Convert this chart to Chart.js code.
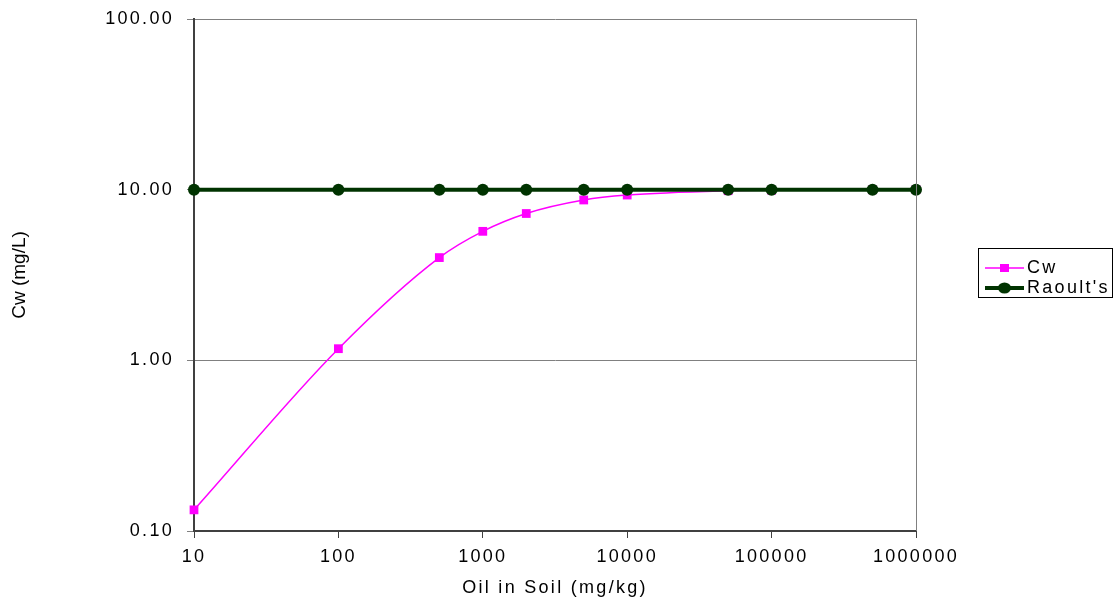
<!DOCTYPE html>
<html>
<head>
<meta charset="utf-8">
<script src="https://cdn.jsdelivr.net/npm/chart.js@4.4.1/dist/chart.umd.min.js"></script>
<style>
  html, body { margin: 0; padding: 0; background: #fff; }
  #wrap { width: 1114px; height: 599px; position: relative; }
</style>
</head>
<body>
<div id="wrap"><canvas id="canvasCw"></canvas></div>
<script>
// oil in soil (mg/kg)
var oil = [10, 100, 500, 1000, 2000, 5000, 10000, 50000, 100000, 500000, 1000000];
// dissolved concentration (mg/L)
var cw = [0.133, 1.17, 4.0, 5.7, 7.25, 8.7, 9.3, 9.86, 9.93, 9.99, 10.0];
var raoults = [10, 10, 10, 10, 10, 10, 10, 10, 10, 10, 10];
var xTicks = [10, 100, 1000, 10000, 100000, 1000000];
var yTicks = [0.1, 1, 10, 100];

var FONT = "'Liberation Sans', Arial, sans-serif";

function toPoints(xs, ys) {
  var pts = [];
  for (var i in xs) {
    pts.push({x: xs[i], y: ys[i]});
  }
  return pts;
}

// Excel-ish spaced text
var spacingPlugin = {
  id: 'spacing',
  beforeLayout: function(chart) { chart.ctx.letterSpacing = '2.3px'; },
  beforeDraw: function(chart) { chart.ctx.letterSpacing = '2.3px'; }
};

// right border of plot, y title, boxed legend
var framePlugin = {
  id: 'frame',
  afterDraw: function(chart) {
    var ctx = chart.ctx;
    var a = chart.chartArea;
    ctx.save();
    ctx.strokeStyle = '#808080';
    ctx.lineWidth = 1;
    ctx.beginPath();
    ctx.moveTo(Math.round(a.right) + 0.5, a.top);
    ctx.lineTo(Math.round(a.right) + 0.5, a.bottom);
    ctx.stroke();

    // y axis title
    ctx.letterSpacing = '0px';
    ctx.fillStyle = '#000';
    ctx.font = '19px ' + FONT;
    ctx.textAlign = 'center';
    ctx.textBaseline = 'middle';
    ctx.translate(20, (a.top + a.bottom) / 2);
    ctx.rotate(-Math.PI / 2);
    ctx.fillText('Cw (mg/L)', 0, 0);
    ctx.restore();

    // legend
    ctx.save();
    ctx.strokeStyle = '#000';
    ctx.lineWidth = 1;
    ctx.strokeRect(978.5, 248.5, 134, 49);
    ctx.letterSpacing = '2.3px';
    ctx.font = '18px ' + FONT;
    ctx.textBaseline = 'middle';
    ctx.textAlign = 'left';
    var ds = chart.data.datasets;
    for (var k = 0; k < ds.length; k++) {
      var d = ds[k];
      var y = 268 + k * 20;
      ctx.strokeStyle = d.borderColor;
      ctx.lineWidth = d.borderWidth;
      ctx.beginPath();
      ctx.moveTo(985, y);
      ctx.lineTo(1024, y);
      ctx.stroke();
      ctx.fillStyle = d.pointBackgroundColor;
      ctx.beginPath();
      if (d.pointStyle === 'rect') {
        ctx.rect(1004.5 - 4.5, y - 4, 9, 8);
      } else {
        ctx.ellipse(1004.5, y, 6.5, 5.5, 0, 0, Math.PI * 2);
      }
      ctx.fill();
      ctx.fillStyle = '#000';
      ctx.fillText(d.label, 1027, y);
    }
    ctx.restore();
  }
};

var ctx = document.getElementById('canvasCw');

var chart = new Chart(ctx, {
  type: 'scatter',
  data: {
    datasets: [
      {
        label: 'Cw',
        data: toPoints(oil, cw),
        showLine: true,
        clip: false,
        borderColor: '#FF00FF',
        backgroundColor: '#FF00FF',
        pointBackgroundColor: '#FF00FF',
        pointBorderWidth: 0,
        borderWidth: 1.5,
        pointStyle: 'rect',
        pointRadius: 6.2,
        cubicInterpolationMode: 'monotone',
        order: 2
      },
      {
        label: "Raoult's",
        data: toPoints(oil, raoults),
        showLine: true,
        clip: false,
        borderColor: '#003300',
        backgroundColor: '#003300',
        pointBackgroundColor: '#003300',
        pointBorderWidth: 0,
        borderWidth: 4,
        pointStyle: 'circle',
        pointRadius: 6,
        order: 1
      }
    ]
  },
  options: {
    responsive: true,
    maintainAspectRatio: false,
    animation: false,
    layout: { padding: { left: 0, top: 19, right: 198, bottom: 0 } },
    plugins: {
      legend: { display: false },
      tooltip: { enabled: false }
    },
    scales: {
      x: {
        type: 'logarithmic',
        min: 10,
        max: 1000000,
        afterBuildTicks: function(scale) {
          scale.ticks = xTicks.map(function(v) { return {value: v}; });
        },
        afterFit: function(scale) {
          scale.height = 68;
          scale.paddingLeft = 0;
          scale.paddingRight = 0;
        },
        ticks: {
          autoSkip: false,
          maxRotation: 0,
          padding: 8,
          color: '#000',
          font: { family: FONT, size: 18 },
          callback: function(v) { return String(v); }
        },
        grid: {
          drawOnChartArea: false,
          drawTicks: true,
          tickLength: 7,
          color: '#404040',
          lineWidth: 1
        },
        border: { color: '#404040', width: 2 },
        title: {
          display: true,
          text: 'Oil in Soil (mg/kg)',
          color: '#000',
          font: { family: FONT, size: 18 },
          padding: { top: 0, bottom: 0 }
        }
      },
      y: {
        type: 'logarithmic',
        min: 0.1,
        max: 100,
        afterBuildTicks: function(scale) {
          scale.ticks = yTicks.map(function(v) { return {value: v}; });
        },
        afterFit: function(scale) {
          scale.width = 194;
          scale.paddingTop = 0;
          scale.paddingBottom = 0;
        },
        ticks: {
          autoSkip: false,
          padding: 13,
          color: '#000',
          font: { family: FONT, size: 18, lineHeight: 1 },
          callback: function(v) { return Number(v).toFixed(2); }
        },
        grid: {
          drawOnChartArea: true,
          drawTicks: true,
          tickLength: 7,
          color: '#808080',
          lineWidth: 1
        },
        border: { color: '#404040', width: 2 }
      }
    }
  },
  plugins: [spacingPlugin, framePlugin]
});
</script>
</body>
</html>
